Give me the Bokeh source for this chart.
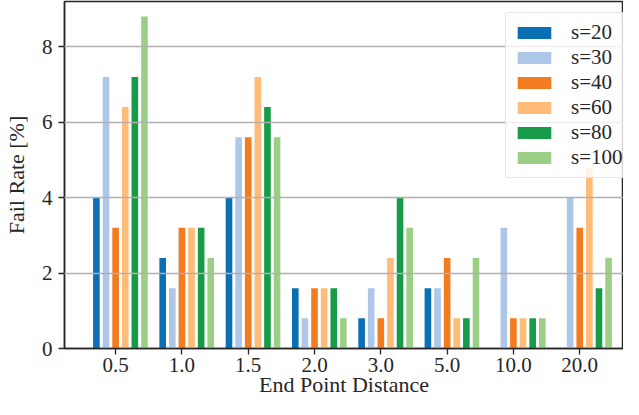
from bokeh.plotting import figure
from bokeh.models import Legend, LegendItem, FixedTicker, Range1d
from bokeh.embed import file_html
from bokeh.resources import INLINE

categories = ["0.5", "1.0", "1.5", "2.0", "3.0", "5.0", "10.0", "20.0"]
series_names = ["s=20", "s=30", "s=40", "s=60", "s=80", "s=100"]
s20 = [4.0, 2.4, 4.0, 1.6, 0.8, 1.6, 0.0, 0.0]
s30 = [7.2, 1.6, 5.6, 0.8, 1.6, 1.6, 3.2, 4.0]
s40 = [3.2, 3.2, 5.6, 1.6, 0.8, 2.4, 0.8, 3.2]
s60 = [6.4, 3.2, 7.2, 1.6, 2.4, 0.8, 0.8, 4.8]
s80 = [7.2, 3.2, 6.4, 1.6, 4.0, 0.8, 0.8, 1.6]
s100 = [8.8, 2.4, 5.6, 0.8, 3.2, 2.4, 0.8, 2.4]
series_values = [s20, s30, s40, s60, s80, s100]
y_ticks = [0, 2, 4, 6, 8]
x_label = "End Point Distance"
y_label = "Fail Rate [%]"

colors = ["#0a6fb3", "#aec7e8", "#f47c20", "#ffbb78", "#169c48", "#9ccf86"]
FONT = "Liberation Serif"
TXT = "#262626"

p = figure(width=623, height=399, output_backend="svg", toolbar_location=None,
           x_range=Range1d(-0.771, 7.66), y_range=Range1d(0, 9.2),
           min_border_left=54, min_border_right=0, min_border_top=1,
           min_border_bottom=40)

pitch = 0.145
bw = 0.1
items = []
for k, (name, vals, c) in enumerate(zip(series_names, series_values, colors)):
    xs = [i + (k - 2) * pitch for i in range(len(categories))]
    r = p.vbar(x=xs, top=vals, width=bw, bottom=0, fill_color=c, line_color=None)
    items.append(LegendItem(label=name, renderers=[r]))

p.outline_line_color = TXT
p.outline_line_width = 1.5
p.background_fill_color = "white"
p.border_fill_color = "white"

p.xgrid.visible = False
p.ygrid.grid_line_color = "#b0b0b0"
p.ygrid.grid_line_width = 1.6
p.ygrid.level = "guide"
p.ygrid.ticker = FixedTicker(ticks=y_ticks)

p.xaxis.ticker = FixedTicker(ticks=list(range(len(categories))))
p.xaxis.major_label_overrides = {i: c for i, c in enumerate(categories)}
p.yaxis.ticker = FixedTicker(ticks=y_ticks)

for ax in [p.xaxis[0], p.yaxis[0]]:
    ax.axis_line_color = TXT
    ax.axis_line_width = 1.5
    ax.major_tick_line_color = TXT
    ax.major_tick_line_width = 1.3
    ax.major_tick_out = 6
    ax.major_tick_in = 0
    ax.minor_tick_line_color = None
    ax.major_label_text_font = FONT
    ax.major_label_text_font_size = "21px"
    ax.major_label_text_color = TXT
    ax.axis_label_text_font = FONT
    ax.axis_label_text_font_size = "22px"
    ax.axis_label_text_font_style = "normal"
    ax.axis_label_text_color = TXT

p.xaxis.axis_label = x_label
p.yaxis.axis_label = y_label
p.xaxis.major_label_standoff = 3
p.xaxis.axis_label_standoff = -3
p.yaxis.major_label_standoff = 6
p.yaxis.axis_label_standoff = 10

legend = Legend(items=items, location=(441, 170))
legend.label_text_font = FONT
legend.label_text_font_size = "21px"
legend.label_text_color = TXT
legend.glyph_width = 42
legend.glyph_height = 15
legend.label_standoff = 16
legend.label_height = 22
legend.spacing = 0
legend.padding = 7
legend.margin = 0
legend.border_line_color = "#cccccc"
legend.border_line_width = 1.3
legend.background_fill_color = "white"
legend.background_fill_alpha = 0.8
if "border_radius" in Legend.properties():
    legend.border_radius = 4
p.add_layout(legend)

open("out.html", "w").write(file_html(p, INLINE))
